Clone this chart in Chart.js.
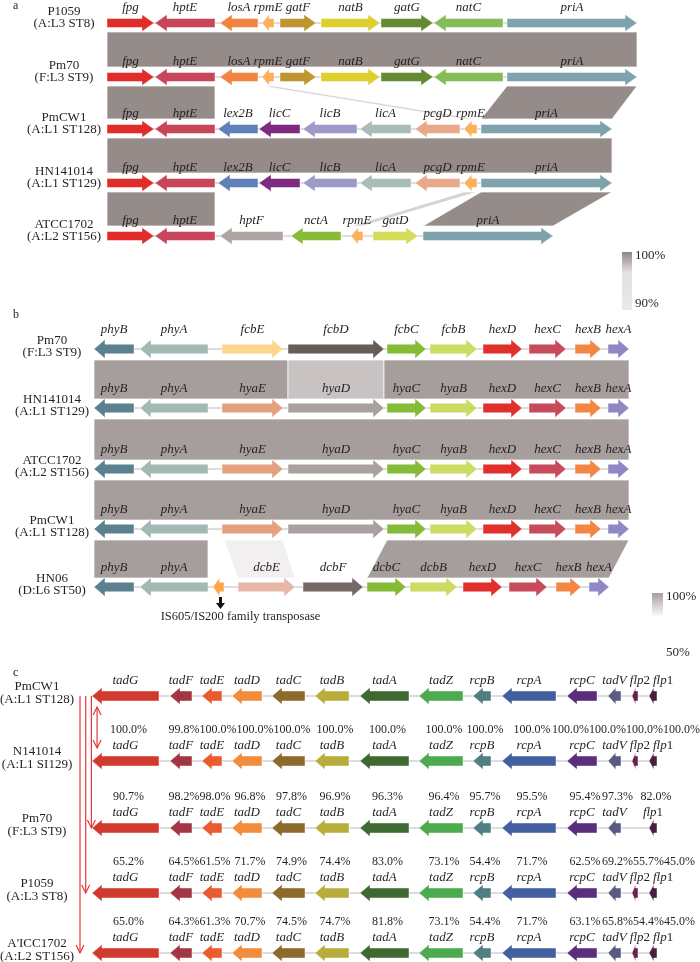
<!DOCTYPE html>
<html>
<head>
<meta charset="utf-8">
<script src="https://cdn.jsdelivr.net/npm/chart.js@4.4.1/dist/chart.umd.min.js"></script>
<style>
  html, body { margin: 0; padding: 0; background: #fff; }
  canvas { display: block; }
</style>
</head>
<body>
<canvas id="geneMap" width="700" height="962"></canvas>
<script>
// ---- panel a: strains, genes [name, start, end, strand], links [topStart, topEnd, bottomStart, bottomEnd, identity %]
const aStrains = ['P1059', 'Pm70', 'PmCW1', 'HN141014', 'ATCC1702'];
const aTypes = ['(A:L3 ST8)', '(F:L3 ST9)', '(A:L1 ST128)', '(A:L1 ST129)', '(A:L2 ST156)'];
const aP1059 = [['fpg', 107, 154, 1], ['hptE', 155, 215, -1], ['losA', 220, 258, -1], ['rpmE', 262, 274, -1], ['gatF', 280, 316, 1], ['natB', 321, 380, 1], ['gatG', 381, 433, 1], ['natC', 434, 503, -1], ['priA', 507, 637, 1]];
const aPm70 = [['fpg', 107, 154, 1], ['hptE', 155, 215, -1], ['losA', 220, 258, -1], ['rpmE', 262, 274, -1], ['gatF', 280, 316, 1], ['natB', 321, 380, 1], ['gatG', 381, 433, 1], ['natC', 434, 503, -1], ['priA', 507, 637, 1]];
const aPmCW1 = [['fpg', 107, 154, 1], ['hptE', 155, 215, -1], ['lex2B', 218, 258, -1], ['licC', 259, 300, -1], ['licB', 303, 357, -1], ['licA', 360, 411, -1], ['pcgD', 415, 460, -1], ['rpmE', 464, 477, -1], ['priA', 481, 612, 1]];
const aHN141014 = [['fpg', 107, 154, 1], ['hptE', 155, 215, -1], ['lex2B', 218, 258, -1], ['licC', 259, 300, -1], ['licB', 303, 357, -1], ['licA', 360, 411, -1], ['pcgD', 415, 460, -1], ['rpmE', 464, 477, -1], ['priA', 481, 612, 1]];
const aATCC1702 = [['fpg', 107, 154, 1], ['hptE', 155, 215, -1], ['hptF', 220, 283, -1], ['nctA', 291, 341, -1], ['rpmE', 351, 363, -1], ['gatD', 373, 418, 1], ['priA', 423, 553, 1]];
const aLinks1 = [[107, 637, 107, 637, 100]];
const aLinks2 = [[107, 215, 107, 215, 100], [262, 274, 464, 477, 97], [507, 637, 481, 612, 100]];
const aLinks3 = [[107, 612, 107, 612, 100]];
const aLinks4 = [[107, 215, 107, 215, 100], [464, 477, 351, 363, 97], [481, 612, 423, 553, 100]];
const aScale = [100, 90];

// ---- panel b
const bStrains = ['Pm70', 'HN141014', 'ATCC1702', 'PmCW1', 'HN06'];
const bTypes = ['(F:L3 ST9)', '(A:L1 ST129)', '(A:L2 ST156)', '(A:L1 ST128)', '(D:L6 ST50)'];
const bPm70 = [['phyB', 94, 134, -1], ['phyA', 140, 208, -1], ['fcbE', 222, 283, 1], ['fcbD', 288, 384, 1], ['fcbC', 387, 426, 1], ['fcbB', 430, 477, 1], ['hexD', 483, 522, 1], ['hexC', 529, 566, 1], ['hexB', 575, 601, 1], ['hexA', 608, 629, 1]];
const bHN141014 = [['phyB', 94, 134, -1], ['phyA', 140, 208, -1], ['hyaE', 222, 283, 1], ['hyaD', 288, 384, 1], ['hyaC', 387, 426, 1], ['hyaB', 430, 477, 1], ['hexD', 483, 522, 1], ['hexC', 529, 566, 1], ['hexB', 575, 601, 1], ['hexA', 608, 629, 1]];
const bATCC1702 = [['phyB', 94, 134, -1], ['phyA', 140, 208, -1], ['hyaE', 222, 283, 1], ['hyaD', 288, 384, 1], ['hyaC', 387, 426, 1], ['hyaB', 430, 477, 1], ['hexD', 483, 522, 1], ['hexC', 529, 566, 1], ['hexB', 575, 601, 1], ['hexA', 608, 629, 1]];
const bPmCW1 = [['phyB', 94, 134, -1], ['phyA', 140, 208, -1], ['hyaE', 222, 283, 1], ['hyaD', 288, 384, 1], ['hyaC', 387, 426, 1], ['hyaB', 430, 477, 1], ['hexD', 483, 522, 1], ['hexC', 529, 566, 1], ['hexB', 575, 601, 1], ['hexA', 608, 629, 1]];
const bHN06 = [['phyB', 94, 134, -1], ['phyA', 140, 208, -1], ['tnp', 213, 224, -1], ['dcbE', 238, 295, 1], ['dcbF', 303, 363, 1], ['dcbC', 367, 406, 1], ['dcbB', 410, 457, 1], ['hexD', 463, 502, 1], ['hexC', 509, 547, 1], ['hexB', 556, 581, 1], ['hexA', 589, 609, 1]];
const bLinks1 = [[94, 288, 94, 288, 100], [288, 384, 288, 384, 81], [384, 629, 384, 629, 100]];
const bLinks2 = [[94, 629, 94, 629, 100]];
const bLinks3 = [[94, 629, 94, 629, 100]];
const bLinks4 = [[94, 208, 94, 208, 100], [224, 283, 238, 295, 58], [387, 629, 367, 609, 100]];
const bScale = [100, 50];
const bNote = 'IS605/IS200 family transposase';

// ---- panel c (all genes on the reverse strand)
const cStrains = ['PmCW1', 'N141014', 'Pm70', 'P1059', "A'ICC1702"];
const cTypes = ['(A:L1 ST128)', '(A:L1 SI129)', '(F:L3 ST9)', '(A:L3 ST8)', '(A:L2 ST156)'];
const cNames = ['tadG', 'tadF', 'tadE', 'tadD', 'tadC', 'tadB', 'tadA', 'tadZ', 'rcpB', 'rcpA', 'rcpC', 'tadV', 'flp2', 'flp1'];
const cStart = [92, 170, 202, 232, 272, 315, 360, 419, 473, 502, 567, 608, 632, 649];
const cEnd = [159, 192, 222, 262, 305, 349, 409, 463, 491, 556, 597, 621, 638, 657];
const cAbsent = [[], [], ['flp2'], [], []];
const cPct2 = [100.0, 99.8, 100.0, 100.0, 100.0, 100.0, 100.0, 100.0, 100.0, 100.0, 100.0, 100.0, 100.0, 100.0];
const cPct3 = [90.7, 98.2, 98.0, 96.8, 97.8, 96.9, 96.3, 96.4, 95.7, 95.5, 95.4, 97.3, null, 82.0];
const cPct4 = [65.2, 64.5, 61.5, 71.7, 74.9, 74.4, 83.0, 73.1, 54.4, 71.7, 62.5, 69.2, 55.7, 45.0];
const cPct5 = [65.0, 64.3, 61.3, 70.7, 74.5, 74.7, 81.8, 73.1, 54.4, 71.7, 63.1, 65.8, 54.4, 45.0];
// comparisons drawn as red arrows: [fromTrack, toTrack, bothEnds]
const cCompare = [[0, 4, false], [0, 3, false], [0, 2, false], [0, 1, true]];

// ---- styles
const aColors = {
  fpg: '#e12d2a', hptE: '#c8465a', losA: '#f2843f', rpmE: '#fbb05a', gatF: '#bf9530', natB: '#ddd02e',
  gatG: '#648a34', natC: '#84bd58', priA: '#7fa3ad', lex2B: '#5f80b8', licC: '#7d2a80', licB: '#9e9ac8',
  licA: '#a7bdb6', pcgD: '#e8a98a', hptF: '#aca5a3', nctA: '#88bc38', gatD: '#d4dc5a'
};
const bColors = {
  phyB: '#5b8191', phyA: '#a3b9b3', fcbE: '#fed68b', fcbD: '#665c59', fcbC: '#86bb38', hyaC: '#86bb38', dcbC: '#86bb38',
  fcbB: '#ccdc62', hyaB: '#ccdc62', dcbB: '#ccdc62', hexD: '#e0302b', hexC: '#c84b5b', hexB: '#f28642', hexA: '#8f88c4',
  hyaE: '#e4a17f', hyaD: '#a9a19f', tnp: '#fba84a', dcbE: '#e8b5a9', dcbF: '#746967'
};
const cColors = {
  tadG: '#d13a2e', tadF: '#a33643', tadE: '#e95c32', tadD: '#f28b3a', tadC: '#8b6a2c', tadB: '#b6ad3a', tadA: '#3e6a32',
  tadZ: '#4bab4e', rcpB: '#4f7f80', rcpA: '#425fa0', rcpC: '#5b2e7b', tadV: '#5b5b82', flp2: '#6b1f4f', flp1: '#48213f'
};
// identity -> block colour ramps [identity, [r,g,b]]
const aRamp = [[100, [149, 140, 138]], [96.5, [226, 222, 222]], [90, [234, 232, 232]]];
const bRamp = [[100, [166, 158, 156]], [50, [255, 255, 255]]];

const SERIF = '"Liberation Serif", "DejaVu Serif", serif';
const INK = '#231f20';

const cTracks = cAbsent.map(skip => cNames
  .map((n, i) => [n, cStart[i], cEnd[i], -1])
  .filter(g => !skip.includes(g[0])));

const panels = [
  {
    letter: 'a', letterY: 6, tracks: [aP1059, aPm70, aPmCW1, aHN141014, aATCC1702],
    strains: aStrains, types: aTypes, links: [aLinks1, aLinks2, aLinks3, aLinks4],
    colors: aColors, ramp: aRamp, trackY: [23, 77, 129, 183, 236], nameX: 64, nameDy: [-11, 1],
    labelDy: -15, linkGap: [9, 10], arrow: { hb: 4.5, hh: 8.5, hl: 12 },
    legend: { x: 622, w: 10, y: 252, h: 58, labels: aScale, labelY: [256, 304],
      stops: [[0, 'rgb(143,134,132)'], [0.35, 'rgb(228,225,225)'], [1, 'rgb(234,232,232)']] }
  },
  {
    letter: 'b', letterY: 315, tracks: [bPm70, bHN141014, bATCC1702, bPmCW1, bHN06],
    strains: bStrains, types: bTypes, links: [bLinks1, bLinks2, bLinks3, bLinks4],
    colors: bColors, ramp: bRamp, trackY: [349, 408, 469, 529, 587], nameX: 52, nameDy: [-8, 4],
    labelDy: -19, linkGap: [11, 9], arrow: { hb: 4.8, hh: 9.5, hl: 11 },
    legend: { x: 652, w: 11, y: 593, h: 24, labels: bScale, labelY: [597, 653],
      stops: [[0, 'rgb(166,158,156)'], [1, 'rgb(255,255,255)']] }
  },
  {
    letter: 'c', letterY: 673, tracks: cTracks, strains: cStrains, types: cTypes, links: [],
    colors: cColors, trackY: [696, 761, 828, 893, 953], nameX: 37, nameDy: [-9, 4],
    labelDy: -15, arrow: { hb: 5, hh: 8.5, hl: 10 }
  }
];

function rampColor(ramp, v) {
  for (let i = 0; i < ramp.length - 1; i++) {
    const [v0, c0] = ramp[i], [v1, c1] = ramp[i + 1];
    if (v <= v0 && v >= v1) {
      const t = (v0 - v) / (v0 - v1);
      return 'rgb(' + c0.map((c, k) => Math.round(c + (c1[k] - c) * t)).join(',') + ')';
    }
  }
  return 'rgb(' + ramp[ramp.length - 1][1].join(',') + ')';
}

// push overlapping labels apart, keeping them inside the right edge
function packLabels(items, gap, maxX) {
  for (let i = 1; i < items.length; i++) {
    const p = items[i - 1], it = items[i];
    const min = p.x + p.w / 2 + gap + it.w / 2;
    if (it.x < min) it.x = min;
  }
  for (let i = items.length - 1; i >= 0; i--) {
    const it = items[i];
    const lim = i === items.length - 1 ? maxX - it.w / 2
      : items[i + 1].x - items[i + 1].w / 2 - gap - it.w / 2;
    if (it.x > lim) it.x = lim;
  }
  return items;
}

function drawArrow(ctx, x1, x2, y, strand, a) {
  const h = Math.min(a.hl, (x2 - x1) * 0.6);
  ctx.beginPath();
  if (strand > 0) {
    ctx.moveTo(x1, y - a.hb); ctx.lineTo(x2 - h, y - a.hb); ctx.lineTo(x2 - h, y - a.hh);
    ctx.lineTo(x2, y); ctx.lineTo(x2 - h, y + a.hh); ctx.lineTo(x2 - h, y + a.hb); ctx.lineTo(x1, y + a.hb);
  } else {
    ctx.moveTo(x2, y - a.hb); ctx.lineTo(x1 + h, y - a.hb); ctx.lineTo(x1 + h, y - a.hh);
    ctx.lineTo(x1, y); ctx.lineTo(x1 + h, y + a.hh); ctx.lineTo(x1 + h, y + a.hb); ctx.lineTo(x2, y + a.hb);
  }
  ctx.closePath();
  ctx.fill();
  ctx.stroke();
}

function geneLabelWidth(ctx, name) {
  const m = name.match(/^(flp)(\d)$/);
  ctx.font = 'italic 13px ' + SERIF;
  if (!m) return ctx.measureText(name).width;
  const w1 = ctx.measureText(m[1]).width;
  ctx.font = '13px ' + SERIF;
  return w1 + ctx.measureText(m[2]).width;
}

function drawGeneLabel(ctx, name, cx, y) {
  const m = name.match(/^(flp)(\d)$/);
  ctx.fillStyle = INK;
  ctx.textBaseline = 'middle';
  if (!m) {
    ctx.font = 'italic 13px ' + SERIF;
    ctx.textAlign = 'center';
    ctx.fillText(name, cx, y);
    return;
  }
  const w = geneLabelWidth(ctx, name);
  ctx.textAlign = 'left';
  ctx.font = 'italic 13px ' + SERIF;
  const w1 = ctx.measureText(m[1]).width;
  ctx.fillText(m[1], cx - w / 2, y);
  ctx.font = '13px ' + SERIF;
  ctx.fillText(m[2], cx - w / 2 + w1, y);
}

function drawVArrowHead(ctx, x, y, dir) {
  ctx.beginPath();
  ctx.moveTo(x - 4, y - 8 * dir);
  ctx.lineTo(x, y);
  ctx.lineTo(x + 4, y - 8 * dir);
  ctx.stroke();
}

function drawPanel(ctx, p, px, py) {
  const a = p.arrow;
  // synteny blocks
  p.links.forEach((list, i) => {
    const yTop = py(p.trackY[i] + p.linkGap[0]);
    const yBot = py(p.trackY[i + 1] - p.linkGap[1]);
    list.forEach(l => {
      ctx.fillStyle = rampColor(p.ramp, l[4]);
      ctx.strokeStyle = 'rgba(255,255,255,0.7)';
      ctx.lineWidth = 1;
      ctx.beginPath();
      ctx.moveTo(px(l[0]), yTop); ctx.lineTo(px(l[1]), yTop);
      ctx.lineTo(px(l[3]), yBot); ctx.lineTo(px(l[2]), yBot);
      ctx.closePath();
      ctx.fill();
      ctx.stroke();
    });
  });

  p.tracks.forEach((genes, t) => {
    const y = py(p.trackY[t]);
    // backbone
    ctx.strokeStyle = '#dcdcdc';
    ctx.lineWidth = 2;
    ctx.beginPath();
    ctx.moveTo(px(genes[0][1]), y);
    ctx.lineTo(px(genes[genes.length - 1][2]), y);
    ctx.stroke();
    // genes
    genes.forEach(g => {
      ctx.fillStyle = p.colors[g[0]];
      ctx.strokeStyle = 'rgba(255,255,255,0.45)';
      ctx.lineWidth = 1;
      drawArrow(ctx, px(g[1]), px(g[2]), y, g[3], a);
    });
    // gene labels
    const named = genes.filter(g => g[0] !== 'tnp');
    const items = named.map(g => ({ name: g[0], x: (px(g[1]) + px(g[2])) / 2, w: geneLabelWidth(ctx, g[0]) }));
    packLabels(items, 3, 699).forEach(it => drawGeneLabel(ctx, it.name, it.x, y + p.labelDy));
    // strain names
    ctx.fillStyle = INK;
    ctx.font = '13px ' + SERIF;
    ctx.textAlign = 'center';
    ctx.textBaseline = 'middle';
    ctx.fillText(p.strains[t], p.nameX, y + p.nameDy[0]);
    ctx.fillText(p.types[t], p.nameX, y + p.nameDy[1]);
  });

  // panel letter
  ctx.fillStyle = INK;
  ctx.font = '12px ' + SERIF;
  ctx.textAlign = 'left';
  ctx.textBaseline = 'middle';
  ctx.fillText(p.letter, 13, py(p.letterY));

  // identity legend
  if (p.legend) {
    const L = p.legend;
    const g = ctx.createLinearGradient(0, py(L.y), 0, py(L.y + L.h));
    L.stops.forEach(s => g.addColorStop(s[0], s[1]));
    ctx.fillStyle = g;
    ctx.fillRect(L.x, py(L.y), L.w, L.h);
    ctx.fillStyle = INK;
    ctx.font = '13px ' + SERIF;
    ctx.textAlign = 'left';
    ctx.fillText(L.labels[0] + '%', L.x + L.w + 3, py(L.labelY[0]));
    ctx.fillText(L.labels[1] + '%', L.x + L.w + 3, py(L.labelY[1]));
  }
}

const genePlugin = {
  id: 'geneMaps',
  afterDraw(chart) {
    const ctx = chart.ctx;
    const px = v => chart.scales.x.getPixelForValue(v);
    const py = v => chart.scales.y.getPixelForValue(v);
    ctx.save();
    panels.forEach(p => drawPanel(ctx, p, px, py));

    // panel b: transposase pointer and note
    const tnp = bHN06.find(g => g[0] === 'tnp');
    const tx = (px(tnp[1]) + px(tnp[2])) / 2 + 2;
    const ty = py(panels[1].trackY[4]);
    ctx.fillStyle = '#111';
    ctx.fillRect(tx - 1.5, ty + 10, 3, 7);
    ctx.beginPath();
    ctx.moveTo(tx - 4.5, ty + 16); ctx.lineTo(tx + 4.5, ty + 16); ctx.lineTo(tx, ty + 22);
    ctx.closePath();
    ctx.fill();
    ctx.fillStyle = INK;
    ctx.font = '12.5px ' + SERIF;
    ctx.textAlign = 'center';
    ctx.textBaseline = 'middle';
    ctx.fillText(bNote, tx + 20, ty + 30);

    // panel c: identity percentages above each compared track
    const pc = panels[2];
    [cPct2, cPct3, cPct4, cPct5].forEach((row, r) => {
      const genes = cTracks[0];
      ctx.font = '12px ' + SERIF;
      const items = [];
      row.forEach((v, i) => {
        if (v === null) return;
        const s = v.toFixed(1) + '%';
        items.push({ s, x: (px(genes[i][1]) + px(genes[i][2])) / 2 + 3, w: ctx.measureText(s).width });
      });
      packLabels(items, 0, 700);
      ctx.fillStyle = INK;
      ctx.textAlign = 'center';
      items.forEach(it => ctx.fillText(it.s, it.x, py(pc.trackY[r + 1] - 31)));
    });

    // panel c: comparison arrows
    ctx.strokeStyle = '#e8353a';
    ctx.lineWidth = 1.2;
    cCompare.forEach((c, k) => {
      const x = 80 + k * 5.7;
      let y0 = py(pc.trackY[c[0]]), y1 = py(pc.trackY[c[1]]);
      if (c[2]) { y0 += 11; y1 -= 13; }
      ctx.beginPath();
      ctx.moveTo(x, y0); ctx.lineTo(x, y1);
      ctx.stroke();
      drawVArrowHead(ctx, x, y1, 1);
      if (c[2]) drawVArrowHead(ctx, x, y0, -1);
    });
    ctx.restore();
  }
};

new Chart(document.getElementById('geneMap'), {
  type: 'scatter',
  data: { datasets: [{ data: [], pointRadius: 0 }] },
  options: {
    responsive: false,
    animation: false,
    layout: { padding: 0 },
    plugins: { legend: { display: false }, tooltip: { enabled: false } },
    scales: {
      x: { type: 'linear', min: 0, max: 700, display: false },
      y: { type: 'linear', min: 0, max: 962, reverse: true, display: false }
    }
  },
  plugins: [genePlugin]
});
</script>
</body>
</html>
